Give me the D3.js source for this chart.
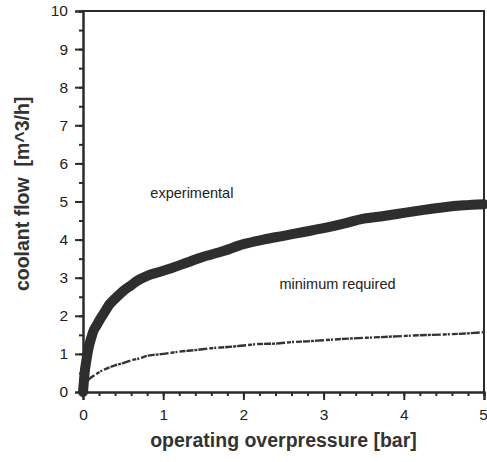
<!DOCTYPE html>
<html>
<head>
<meta charset="utf-8">
<script src="https://cdn.jsdelivr.net/npm/d3@7"></script>
<style>
  body { margin: 0; background: #fff; }
  svg { display: block; font-family: 'Liberation Sans', Arial, sans-serif; }
</style>
</head>
<body>
<div id="chart"></div>
<script>
// experimental curve (bar, m^3/h)
const expX = [0, 0.01, 0.02, 0.04, 0.06, 0.08, 0.1, 0.13, 0.17, 0.21, 0.27, 0.33, 0.4, 0.5, 0.6, 0.7, 0.8, 0.95, 1.1, 1.3, 1.5, 1.75, 2.0, 2.25, 2.5, 2.75, 3.0, 3.25, 3.5, 3.75, 4.0, 4.25, 4.5, 4.75, 5.0]
const expY = [0, 0.25, 0.5, 0.8, 1.05, 1.25, 1.4, 1.6, 1.75, 1.9, 2.1, 2.3, 2.45, 2.65, 2.8, 2.95, 3.05, 3.15, 3.25, 3.4, 3.55, 3.7, 3.88, 4.0, 4.1, 4.2, 4.3, 4.42, 4.55, 4.62, 4.7, 4.78, 4.85, 4.9, 4.93]

// minimum required curve
const minX = [0, 0.03, 0.06, 0.1, 0.15, 0.2, 0.3, 0.4, 0.5, 0.6, 0.7, 0.8, 0.9, 1.0, 1.2, 1.4, 1.6, 1.8, 2.0, 2.2, 2.4, 2.6, 2.8, 3.0, 3.3, 3.6, 3.9, 4.2, 4.5, 4.8, 5.0]
const minY = [0, 0.15, 0.3, 0.38, 0.45, 0.52, 0.62, 0.7, 0.76, 0.83, 0.88, 0.95, 0.98, 1.0, 1.06, 1.1, 1.15, 1.18, 1.22, 1.26, 1.27, 1.31, 1.33, 1.36, 1.4, 1.43, 1.46, 1.49, 1.51, 1.54, 1.57]

const xTicks = [0, 1, 2, 3, 4, 5]
const yTicks = [0, 1, 2, 3, 4, 5, 6, 7, 8, 9, 10]

const width = 487, height = 462
const margin = { top: 11, right: 3, bottom: 70, left: 83 }
const ink = '#2b2b2b'

const svg = d3.select('#chart').append('svg')
  .attr('width', width)
  .attr('height', height)

const x = d3.scaleLinear().domain([0, 5]).range([margin.left, width - margin.right])
const y = d3.scaleLinear().domain([0, 10]).range([height - margin.bottom, margin.top])

// frame: top and right edges
svg.append('path')
  .attr('d', `M${x(0)},${y(10)}H${x(5)}V${y(0)}`)
  .attr('fill', 'none')
  .attr('stroke', ink)
  .attr('stroke-width', 2)

// x axis
const xAxis = svg.append('g').attr('transform', `translate(0,${y(0)})`)
xAxis.call(d3.axisBottom(x).tickValues(d3.range(0, 5.001, 0.2)).tickSize(4).tickFormat(''))
xAxis.append('g').call(d3.axisBottom(x).tickValues(xTicks).tickSize(8).tickFormat(d3.format('d')))
xAxis.selectAll('.domain').attr('stroke', ink).attr('stroke-width', 2)
xAxis.selectAll('line').attr('stroke', ink).attr('stroke-width', 2)
xAxis.selectAll('text').attr('font-size', 15.5).attr('fill', '#222').attr('dy', '1.1em')
  .attr('dx', d => d === 5 ? -1 : 0)

// y axis
const yAxis = svg.append('g').attr('transform', `translate(${x(0)},0)`)
yAxis.call(d3.axisLeft(y).tickValues(d3.range(0, 10.001, 0.5)).tickSize(4).tickFormat(''))
yAxis.append('g').call(d3.axisLeft(y).tickValues(yTicks).tickSize(8).tickFormat(d3.format('d')))
yAxis.selectAll('.domain').attr('stroke', ink).attr('stroke-width', 2)
yAxis.selectAll('line').attr('stroke', ink).attr('stroke-width', 2)
yAxis.selectAll('text').attr('font-size', 15.5).attr('fill', '#222').attr('x', -15)

// curves
const line = d3.line().x(d => x(d[0])).y(d => y(d[1])).curve(d3.curveMonotoneX)

svg.append('path')
  .datum(minX.map((v, i) => [v, minY[i]]))
  .attr('d', line)
  .attr('fill', 'none')
  .attr('stroke', '#333')
  .attr('stroke-width', 2.4)
  .attr('stroke-dasharray', '7,1,3,1,9,2,4,1,2,2,6,1')

svg.append('path')
  .datum(expX.map((v, i) => [v, expY[i]]))
  .attr('d', line)
  .attr('fill', 'none')
  .attr('stroke', '#2e2e2e')
  .attr('stroke-width', 10)
  .attr('stroke-linecap', 'round')
  .attr('stroke-linejoin', 'round')

// annotations
svg.append('text')
  .attr('x', x(0.84)).attr('y', y(5.1))
  .attr('font-size', 14.5).attr('fill', '#222')
  .text('experimental')

svg.append('text')
  .attr('x', x(2.45)).attr('y', y(2.7))
  .attr('font-size', 14.5).attr('fill', '#222')
  .text('minimum required')

// axis titles
svg.append('text')
  .attr('x', (x(0) + x(5)) / 2).attr('y', 447)
  .attr('text-anchor', 'middle')
  .attr('font-size', 19.5).attr('font-weight', 'bold').attr('fill', '#333')
  .text('operating overpressure [bar]')

svg.append('text')
  .attr('transform', `translate(29,${y(5.2)}) rotate(-90)`)
  .attr('text-anchor', 'middle')
  .attr('font-size', 19.5).attr('font-weight', 'bold').attr('fill', '#333')
  .style('white-space', 'pre')
  .text('coolant flow  [m^3/h]')
</script>
</body>
</html>
